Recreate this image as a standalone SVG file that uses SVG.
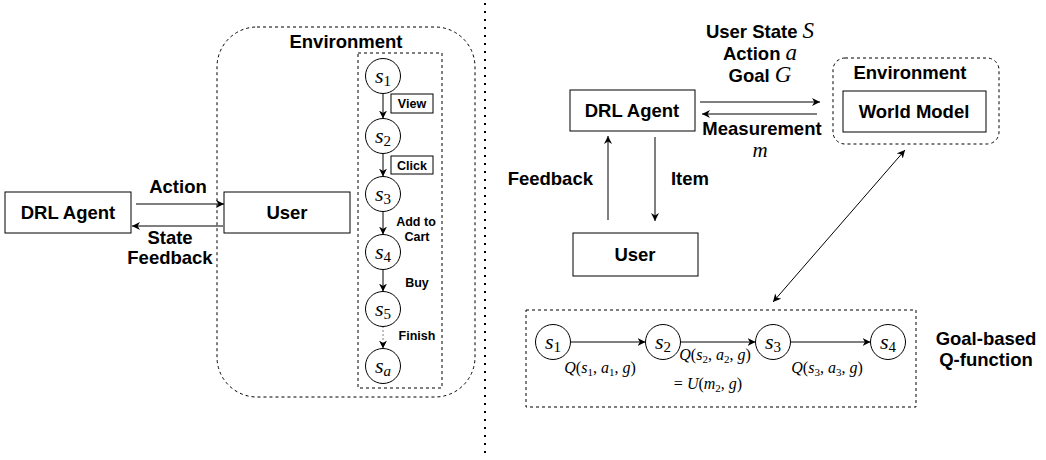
<svg xmlns="http://www.w3.org/2000/svg" width="1046" height="460" viewBox="0 0 1046 460">
<style>
.box{fill:#fff;stroke:#000;stroke-width:1}
.dash{fill:none;stroke:#000;stroke-width:1;stroke-dasharray:3,3}
.lbl{font-family:"Liberation Sans",Arial,sans-serif;font-weight:bold;font-size:18.5px;fill:#000;text-anchor:middle}
.sm{font-family:"Liberation Sans",Arial,sans-serif;font-weight:bold;font-size:12.5px;fill:#000;text-anchor:middle}
.math{font-family:"Liberation Serif","Times New Roman",serif;font-style:italic;fill:#000}
.st{font-family:"Liberation Serif","Times New Roman",serif;font-size:22px;fill:#000;text-anchor:middle}
.q{font-family:"Liberation Serif","Times New Roman",serif;font-size:16px;fill:#000;text-anchor:middle}
.node{fill:#fff;stroke:#000;stroke-width:1}
.ln{stroke:#000;stroke-width:1;fill:none}
</style>
<defs>
<marker id="arr" viewBox="0 0 10 10" refX="10" refY="5" markerWidth="8" markerHeight="8" orient="auto" markerUnits="userSpaceOnUse">
<path d="M0,0 L10,5 L0,10 L3,5 z" fill="#000"/>
</marker>
<marker id="arrs" viewBox="0 0 10 10" refX="0" refY="5" markerWidth="8" markerHeight="8" orient="auto" markerUnits="userSpaceOnUse">
<path d="M10,0 L0,5 L10,10 L7,5 z" fill="#000"/>
</marker>
</defs>

<!-- divider -->
<line x1="485" y1="3" x2="485" y2="458" stroke="#000" stroke-width="2" stroke-dasharray="2,6"/>

<!-- LEFT -->
<g id="left-env">
<rect x="217" y="27" width="258" height="370" rx="40" ry="40" class="dash"/>
<text x="346" y="48" class="lbl">Environment</text>
<rect x="358" y="53" width="84" height="335" class="dash"/>
</g>
<g id="left-agent">
<rect x="5" y="192" width="126" height="41" class="box"/>
<text x="68" y="219" class="lbl">DRL Agent</text>
</g>
<g id="left-user">
<rect x="224" y="192" width="126" height="41" class="box"/>
<text x="287" y="219" class="lbl">User</text>
</g>
<g id="ls1"><circle cx="383" cy="76" r="17.5" class="node"/><text x="383" y="83" class="st"><tspan class="math">s</tspan><tspan font-size="15" dy="3">1</tspan></text></g>
<g id="ls2"><circle cx="383" cy="136" r="17.5" class="node"/><text x="383" y="143" class="st"><tspan class="math">s</tspan><tspan font-size="15" dy="3">2</tspan></text></g>
<g id="ls3"><circle cx="383" cy="194" r="17.5" class="node"/><text x="383" y="201" class="st"><tspan class="math">s</tspan><tspan font-size="15" dy="3">3</tspan></text></g>
<g id="ls4"><circle cx="383" cy="252" r="17.5" class="node"/><text x="383" y="259" class="st"><tspan class="math">s</tspan><tspan font-size="15" dy="3">4</tspan></text></g>
<g id="ls5"><circle cx="383" cy="309" r="17.5" class="node"/><text x="383" y="316" class="st"><tspan class="math">s</tspan><tspan font-size="15" dy="3">5</tspan></text></g>
<g id="lsa"><circle cx="383" cy="366" r="17.5" class="node"/><text x="383" y="373" class="st"><tspan class="math">s</tspan><tspan class="math" font-size="15" dy="3">a</tspan></text></g>

<g id="left-labels">
<text x="178" y="193" class="lbl">Action</text>
<text x="170" y="244" class="lbl">State</text>
<text x="170" y="264" class="lbl">Feedback</text>
<rect x="391" y="94" width="42" height="19" class="box"/>
<text x="412" y="108" class="sm">View</text>
<rect x="391" y="156" width="42" height="18" class="box"/>
<text x="412" y="170" class="sm">Click</text>
<text x="416" y="226" class="sm">Add to</text>
<text x="417" y="241" class="sm">Cart</text>
<text x="417" y="287" class="sm">Buy</text>
<text x="417" y="340" class="sm">Finish</text>
</g>

<g id="left-connectors">
<line x1="136" y1="204" x2="224" y2="204" class="ln" marker-end="url(#arr)"/>
<line x1="223" y1="226" x2="132" y2="226" class="ln" marker-end="url(#arr)"/>
<line x1="383" y1="93.5" x2="383" y2="118.5" class="ln" marker-end="url(#arr)"/>
<line x1="383" y1="153.5" x2="383" y2="176.5" class="ln" marker-end="url(#arr)"/>
<line x1="383" y1="211.5" x2="383" y2="234.5" class="ln" marker-end="url(#arr)"/>
<line x1="383" y1="269.5" x2="383" y2="291.5" class="ln" marker-end="url(#arr)"/>
<line x1="383" y1="326.5" x2="383" y2="348.5" class="ln" stroke-dasharray="1,3" marker-end="url(#arr)"/>
</g>

<!-- RIGHT -->
<g id="right-agent">
<rect x="570" y="90" width="125" height="41" class="box"/>
<text x="632" y="117" class="lbl">DRL Agent</text>
</g>
<g id="right-env">
<rect x="833" y="58" width="166" height="86" rx="12" ry="12" class="dash"/>
<text x="910" y="79" class="lbl">Environment</text>
</g>
<g id="world-model">
<rect x="843" y="91" width="143" height="41" class="box"/>
<text x="914" y="118" class="lbl">World Model</text>
</g>
<g id="right-user">
<rect x="573" y="233" width="125" height="43" class="box"/>
<text x="635" y="261" class="lbl">User</text>
</g>

<g id="right-labels">
<text x="760" y="38" class="lbl">User  State <tspan class="math" font-size="23" font-weight="normal">S</tspan></text>
<text x="760" y="60" class="lbl">Action <tspan class="math" font-size="23" font-weight="normal">a</tspan></text>
<text x="760" y="82" class="lbl">Goal  <tspan class="math" font-size="23" font-weight="normal">G</tspan></text>
<text x="762" y="135" class="lbl">Measurement</text>
<text x="760" y="157" class="math" font-size="21" text-anchor="middle">m</text>
<text x="593" y="185" class="lbl" style="text-anchor:end">Feedback</text>
<text x="690" y="185" class="lbl">Item</text>
<text x="986" y="345" class="lbl">Goal-based</text>
<text x="986" y="366" class="lbl">Q-function</text>
</g>

<g id="qfunc">
<rect x="526" y="310" width="390" height="97" class="dash"/>
</g>
<g id="rs1"><circle cx="553" cy="342" r="17.5" class="node"/><text x="553" y="349" class="st"><tspan class="math">s</tspan><tspan font-size="15" dy="3">1</tspan></text></g>
<g id="rs2"><circle cx="663" cy="342" r="17.5" class="node"/><text x="663" y="349" class="st"><tspan class="math">s</tspan><tspan font-size="15" dy="3">2</tspan></text></g>
<g id="rs3"><circle cx="773" cy="342" r="17.5" class="node"/><text x="773" y="349" class="st"><tspan class="math">s</tspan><tspan font-size="15" dy="3">3</tspan></text></g>
<g id="rs4"><circle cx="888" cy="342" r="17.5" class="node"/><text x="888" y="349" class="st"><tspan class="math">s</tspan><tspan font-size="15" dy="3">4</tspan></text></g>

<g id="q-labels">
<text x="600" y="373" class="q"><tspan class="math">Q</tspan>(<tspan class="math">s</tspan><tspan font-size="11" dy="3">1</tspan><tspan dy="-3">, </tspan><tspan class="math">a</tspan><tspan font-size="11" dy="3">1</tspan><tspan dy="-3">, </tspan><tspan class="math">g</tspan>)</text>
<text x="715" y="360" class="q"><tspan class="math">Q</tspan>(<tspan class="math">s</tspan><tspan font-size="11" dy="3">2</tspan><tspan dy="-3">, </tspan><tspan class="math">a</tspan><tspan font-size="11" dy="3">2</tspan><tspan dy="-3">, </tspan><tspan class="math">g</tspan>)</text>
<text x="708" y="389" class="q">= <tspan class="math">U</tspan>(<tspan class="math">m</tspan><tspan font-size="11" dy="3">2</tspan><tspan dy="-3">, </tspan><tspan class="math">g</tspan>)</text>
<text x="827" y="373" class="q"><tspan class="math">Q</tspan>(<tspan class="math">s</tspan><tspan font-size="11" dy="3">3</tspan><tspan dy="-3">, </tspan><tspan class="math">a</tspan><tspan font-size="11" dy="3">3</tspan><tspan dy="-3">, </tspan><tspan class="math">g</tspan>)</text>
</g>

<g id="right-connectors">
<line x1="700" y1="102" x2="820" y2="102" class="ln" marker-end="url(#arr)"/>
<line x1="817" y1="114" x2="702" y2="114" class="ln" marker-end="url(#arr)"/>
<line x1="608" y1="220" x2="608" y2="136" class="ln" marker-end="url(#arr)"/>
<line x1="655" y1="137" x2="655" y2="221" class="ln" marker-end="url(#arr)"/>
<line x1="773" y1="302" x2="905" y2="150" class="ln" marker-start="url(#arrs)" marker-end="url(#arr)"/>
<line x1="570.5" y1="342" x2="645.5" y2="342" class="ln" marker-end="url(#arr)"/>
<line x1="680.5" y1="342" x2="755.5" y2="342" class="ln" marker-end="url(#arr)"/>
<line x1="790.5" y1="342" x2="870.5" y2="342" class="ln" marker-end="url(#arr)"/>
</g>
</svg>
